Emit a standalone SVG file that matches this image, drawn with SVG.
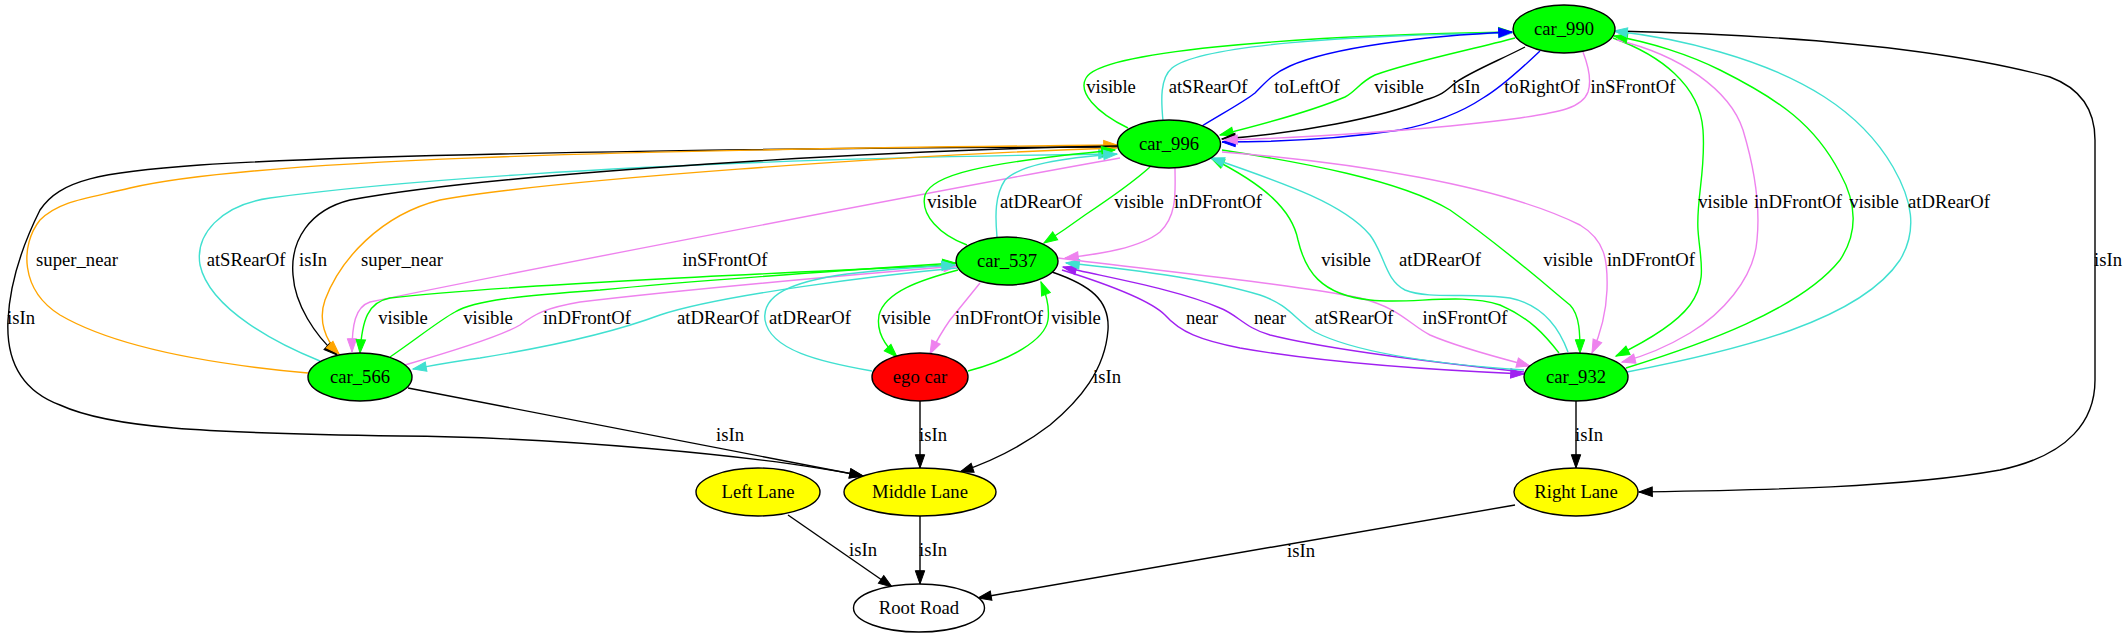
<svg xmlns="http://www.w3.org/2000/svg" width="2128" height="639" viewBox="0 0 2128 639">
<style>
.e{fill:none;stroke-width:1.4}
.k{stroke:#000}.g{stroke:#00ff00}.t{stroke:#40e0d0}.v{stroke:#ee82ee}.o{stroke:#ffa500}.p{stroke:#a020f0}.b{stroke:#0000ff}
.lbl{font-family:"Liberation Serif","Times New Roman",serif;font-size:18.67px;fill:#000;text-anchor:middle}
.n ellipse{stroke:#000;stroke-width:1.4}
.n text{font-family:"Liberation Serif","Times New Roman",serif;font-size:18.67px;fill:#000;text-anchor:middle}
</style>
<defs>
<marker id="mk" markerWidth="14" markerHeight="10" refX="13.3" refY="4.7" orient="auto" markerUnits="userSpaceOnUse" overflow="visible"><path d="M0,0 L13.3,4.7 L0,9.4 z" fill="#000" stroke="#000"/></marker>
<marker id="mg" markerWidth="14" markerHeight="10" refX="13.3" refY="4.7" orient="auto" markerUnits="userSpaceOnUse" overflow="visible"><path d="M0,0 L13.3,4.7 L0,9.4 z" fill="#00ff00" stroke="#00ff00"/></marker>
<marker id="mt" markerWidth="14" markerHeight="10" refX="13.3" refY="4.7" orient="auto" markerUnits="userSpaceOnUse" overflow="visible"><path d="M0,0 L13.3,4.7 L0,9.4 z" fill="#40e0d0" stroke="#40e0d0"/></marker>
<marker id="mv" markerWidth="14" markerHeight="10" refX="13.3" refY="4.7" orient="auto" markerUnits="userSpaceOnUse" overflow="visible"><path d="M0,0 L13.3,4.7 L0,9.4 z" fill="#ee82ee" stroke="#ee82ee"/></marker>
<marker id="mo" markerWidth="14" markerHeight="10" refX="13.3" refY="4.7" orient="auto" markerUnits="userSpaceOnUse" overflow="visible"><path d="M0,0 L13.3,4.7 L0,9.4 z" fill="#ffa500" stroke="#ffa500"/></marker>
<marker id="mp" markerWidth="14" markerHeight="10" refX="13.3" refY="4.7" orient="auto" markerUnits="userSpaceOnUse" overflow="visible"><path d="M0,0 L13.3,4.7 L0,9.4 z" fill="#a020f0" stroke="#a020f0"/></marker>
<marker id="mb" markerWidth="14" markerHeight="10" refX="13.3" refY="4.7" orient="auto" markerUnits="userSpaceOnUse" overflow="visible"><path d="M0,0 L13.3,4.7 L0,9.4 z" fill="#0000ff" stroke="#0000ff"/></marker>
</defs>
<rect width="2128" height="639" fill="#fff"/>
<g id="edges">
<!-- car_996 <-> car_990 -->
<path class="e g" marker-end="url(#mg)" d="M1128,128 C1095,112 1078,92 1086,78 C1100,52 1280,36 1512,32"/>
<path class="e t" marker-end="url(#mt)" d="M1163,121 C1161,100 1160,78 1172,68 C1200,45 1350,35 1512,33"/>
<path class="e b" marker-end="url(#mb)" d="M1202,126 C1225,112 1245,101 1255,93 C1266,82 1272,74 1290,66 C1330,48 1420,36 1512,32"/>
<path class="e g" marker-end="url(#mg)" d="M1515,38 C1470,50 1410,62 1375,75 C1360,82 1355,92 1345,97 C1310,112 1260,125 1220,135"/>
<path class="e k" marker-end="url(#mk)" d="M1525,47 C1500,60 1470,72 1455,83 C1445,92 1440,96 1425,100 C1380,118 1300,133 1222,139"/>
<path class="e b" marker-end="url(#mb)" d="M1540,51 C1520,70 1500,88 1483,98 C1465,110 1440,122 1400,130 C1340,139 1270,142 1222,142"/>
<path class="e v" marker-end="url(#mv)" d="M1583,52 C1588,65 1592,80 1588,92 C1582,108 1560,112 1520,118 C1430,130 1300,138 1224,140"/>
<text class="lbl" x="1111" y="93">visible</text>
<text class="lbl" x="1208" y="93">atSRearOf</text>
<text class="lbl" x="1307" y="93">toLeftOf</text>
<text class="lbl" x="1399" y="93">visible</text>
<text class="lbl" x="1466" y="93">isIn</text>
<text class="lbl" x="1542" y="93">toRightOf</text>
<text class="lbl" x="1633" y="93">inSFrontOf</text>
<!-- car_990 -> Right Lane -->
<path class="e k" marker-end="url(#mk)" d="M1615,31 C1800,35 1950,50 2050,77 C2085,90 2095,115 2095,140 L2095,380 C2095,420 2070,455 2000,470 C1900,488 1760,490 1639,492"/>
<text class="lbl" x="2108" y="266">isIn</text>
<!-- car_990 <-> car_932 -->
<path class="e g" marker-end="url(#mg)" d="M1613,38 C1660,55 1700,85 1703,130 C1706,170 1696,200 1698,230 C1700,260 1708,280 1690,305 C1675,325 1645,342 1616,356"/>
<path class="e v" marker-end="url(#mv)" d="M1617,40 C1680,55 1730,90 1743,130 C1755,170 1760,210 1757,240 C1754,280 1720,315 1690,333 C1670,345 1645,356 1622,362"/>
<path class="e g" marker-end="url(#mg)" d="M1626,368 C1700,345 1800,310 1840,260 C1860,230 1855,200 1840,173 C1815,125 1780,100 1720,70 C1690,55 1650,42 1614,36"/>
<path class="e t" marker-end="url(#mt)" d="M1627,372 C1740,350 1860,320 1900,260 C1918,230 1912,200 1893,167 C1860,110 1800,75 1720,52 C1690,43 1650,35 1614,31"/>
<text class="lbl" x="1723" y="208">visible</text>
<text class="lbl" x="1798" y="208">inDFrontOf</text>
<text class="lbl" x="1874" y="208">visible</text>
<text class="lbl" x="1949" y="208">atDRearOf</text>
<!-- car_996 <-> car_566 and far-left isIn -->
<path class="e k" marker-end="url(#mk)" d="M1117,147 C900,147 400,152 200,165 C100,172 60,180 40,210 C25,240 10,280 8,320 C6,360 20,390 60,405 C110,428 200,433 400,436 C550,437 760,455 863,476"/>
<path class="e o" marker-end="url(#mo)" d="M308,373 C220,365 120,350 60,315 C20,290 20,245 40,220 C60,200 90,198 130,188 C250,160 600,150 1117,145"/>
<path class="e t" marker-end="url(#mt)" d="M320,361 C280,345 210,310 200,265 C195,235 220,205 270,198 C350,187 600,160 1112,154"/>
<path class="e k" marker-end="url(#mk)" d="M1117,146 C900,150 500,172 350,200 C310,210 290,240 293,275 C295,305 315,335 337,355"/>
<path class="e o" marker-end="url(#mo)" d="M1117,148 C900,155 550,180 440,200 C380,215 340,260 325,300 C318,320 325,340 339,354"/>
<path class="e v" marker-end="url(#mv)" d="M1120,158 C950,188 500,275 370,302 C355,307 352,325 352,352"/>
<text class="lbl" x="21" y="324">isIn</text>
<text class="lbl" x="77" y="266">super_near</text>
<text class="lbl" x="246" y="266">atSRearOf</text>
<text class="lbl" x="313" y="266">isIn</text>
<text class="lbl" x="402" y="266">super_near</text>
<text class="lbl" x="725" y="266">inSFrontOf</text>
<!-- car_996 <-> car_537 -->
<path class="e g" marker-end="url(#mg)" d="M967,245 C940,235 920,215 925,195 C932,175 980,163 1115,150"/>
<path class="e t" marker-end="url(#mt)" d="M997,237 C995,215 995,195 1005,180 C1020,165 1060,158 1117,154"/>
<path class="e g" marker-end="url(#mg)" d="M1150,167 C1130,185 1100,205 1085,215 C1070,226 1055,236 1044,243"/>
<path class="e v" marker-end="url(#mv)" d="M1175,168 C1175,190 1178,215 1160,232 C1140,248 1100,254 1065,258"/>
<text class="lbl" x="952" y="208">visible</text>
<text class="lbl" x="1041" y="208">atDRearOf</text>
<text class="lbl" x="1139" y="208">visible</text>
<text class="lbl" x="1218" y="208">inDFrontOf</text>
<!-- car_537 <-> car_566 -->
<path class="e g" marker-end="url(#mg)" d="M955,265 C800,272 500,285 390,298 C368,302 362,320 360,353"/>
<path class="e g" marker-end="url(#mg)" d="M390,357 C415,340 440,320 455,312 C475,300 520,296 600,290 C700,280 850,270 956,263"/>
<path class="e v" marker-end="url(#mv)" d="M405,365 C450,352 500,337 520,325 C535,314 545,308 580,302 C680,290 850,275 957,266"/>
<path class="e t" marker-end="url(#mt)" d="M957,268 C880,275 720,295 660,315 C620,330 560,345 480,358 C450,362 430,366 413,369"/>
<text class="lbl" x="403" y="324">visible</text>
<text class="lbl" x="488" y="324">visible</text>
<text class="lbl" x="587" y="324">inDFrontOf</text>
<text class="lbl" x="718" y="324">atDRearOf</text>
<!-- car_537 <-> ego car -->
<path class="e t" marker-end="url(#mt)" d="M872,371 C820,362 770,350 765,320 C762,295 790,282 847,274 C880,270 920,267 955,265"/>
<path class="e g" marker-end="url(#mg)" d="M958,270 C920,280 885,292 879,315 C876,332 885,345 897,357"/>
<path class="e v" marker-end="url(#mv)" d="M980,283 C968,298 958,310 950,320 C943,330 936,342 930,354"/>
<path class="e g" marker-end="url(#mg)" d="M968,371 C1010,360 1045,340 1048,320 C1050,305 1045,292 1041,282"/>
<text class="lbl" x="810" y="324">atDRearOf</text>
<text class="lbl" x="906" y="324">visible</text>
<text class="lbl" x="999" y="324">inDFrontOf</text>
<text class="lbl" x="1076" y="324">visible</text>
<!-- car_537 -> Middle Lane -->
<path class="e k" marker-end="url(#mk)" d="M1052,272 C1090,285 1110,300 1108,330 C1105,370 1080,400 1050,425 C1020,448 990,462 960,472"/>
<text class="lbl" x="1107" y="383">isIn</text>
<!-- car_537 <-> car_932 -->
<path class="e p" marker-end="url(#mp)" d="M1062,270 C1110,285 1150,300 1165,315 C1180,332 1200,340 1240,348 C1320,362 1430,370 1524,374"/>
<path class="e p" marker-end="url(#mp)" d="M1524,372 C1430,362 1330,350 1270,335 C1245,328 1238,315 1220,308 C1180,290 1110,278 1063,267"/>
<path class="e t" marker-end="url(#mt)" d="M1524,370 C1450,365 1360,355 1315,332 C1295,320 1290,305 1260,295 C1210,280 1140,270 1066,263"/>
<path class="e v" marker-end="url(#mv)" d="M1058,258 C1150,270 1300,285 1360,298 C1400,308 1410,325 1430,335 C1460,348 1500,358 1530,366"/>
<text class="lbl" x="1202" y="324">near</text>
<text class="lbl" x="1270" y="324">near</text>
<text class="lbl" x="1354" y="324">atSRearOf</text>
<text class="lbl" x="1465" y="324">inSFrontOf</text>
<!-- car_996 <-> car_932 -->
<path class="e g" marker-end="url(#mg)" d="M1559,353 C1545,335 1530,318 1500,305 C1460,292 1410,305 1370,300 C1320,295 1305,270 1298,240 C1292,210 1265,185 1211,158"/>
<path class="e t" marker-end="url(#mt)" d="M1568,352 C1560,330 1545,305 1510,298 C1470,292 1430,300 1405,290 C1385,280 1385,255 1370,235 C1345,205 1290,185 1211,158"/>
<path class="e g" marker-end="url(#mg)" d="M1222,150 C1300,162 1400,180 1450,210 C1500,245 1540,280 1570,305 C1580,315 1580,335 1580,353"/>
<path class="e v" marker-end="url(#mv)" d="M1222,152 C1350,162 1500,185 1580,225 C1605,240 1608,260 1607,290 C1606,315 1600,335 1592,353"/>
<text class="lbl" x="1346" y="266">visible</text>
<text class="lbl" x="1440" y="266">atDRearOf</text>
<text class="lbl" x="1568" y="266">visible</text>
<text class="lbl" x="1651" y="266">inDFrontOf</text>
<!-- lanes -->
<path class="e k" marker-end="url(#mk)" d="M920,401 L920,468"/>
<text class="lbl" x="933" y="441">isIn</text>
<path class="e k" marker-end="url(#mk)" d="M408,388 L863,476"/>
<text class="lbl" x="730" y="441">isIn</text>
<path class="e k" marker-end="url(#mk)" d="M1576,401 L1576,468"/>
<text class="lbl" x="1589" y="441">isIn</text>
<path class="e k" marker-end="url(#mk)" d="M788,515 L892,587"/>
<text class="lbl" x="863" y="556">isIn</text>
<path class="e k" marker-end="url(#mk)" d="M920,516 L920,584"/>
<text class="lbl" x="933" y="556">isIn</text>
<path class="e k" marker-end="url(#mk)" d="M1515,505 L978,598"/>
<text class="lbl" x="1301" y="557">isIn</text>
</g>
<g id="car_990" class="n"><ellipse cx="1564" cy="29" rx="51" ry="24" fill="#00ff00"/><text x="1564" y="35">car_990</text></g>
<g id="car_996" class="n"><ellipse cx="1169" cy="144" rx="51.5" ry="24" fill="#00ff00"/><text x="1169" y="150">car_996</text></g>
<g id="car_537" class="n"><ellipse cx="1007" cy="261" rx="51" ry="24" fill="#00ff00"/><text x="1007" y="267">car_537</text></g>
<g id="car_566" class="n"><ellipse cx="360" cy="377" rx="52" ry="24" fill="#00ff00"/><text x="360" y="383">car_566</text></g>
<g id="ego_car" class="n"><ellipse cx="920" cy="377" rx="48" ry="24" fill="#ff0000"/><text x="920" y="383">ego car</text></g>
<g id="car_932" class="n"><ellipse cx="1576" cy="377" rx="52" ry="24" fill="#00ff00"/><text x="1576" y="383">car_932</text></g>
<g id="left_lane" class="n"><ellipse cx="758" cy="492" rx="62" ry="24" fill="#ffff00"/><text x="758" y="498">Left Lane</text></g>
<g id="middle_lane" class="n"><ellipse cx="920" cy="492" rx="76" ry="24" fill="#ffff00"/><text x="920" y="498">Middle Lane</text></g>
<g id="right_lane" class="n"><ellipse cx="1576" cy="492" rx="62" ry="24" fill="#ffff00"/><text x="1576" y="498">Right Lane</text></g>
<g id="root_road" class="n"><ellipse cx="919" cy="608" rx="65.5" ry="24" fill="#ffffff"/><text x="919" y="614">Root Road</text></g>
</svg>
